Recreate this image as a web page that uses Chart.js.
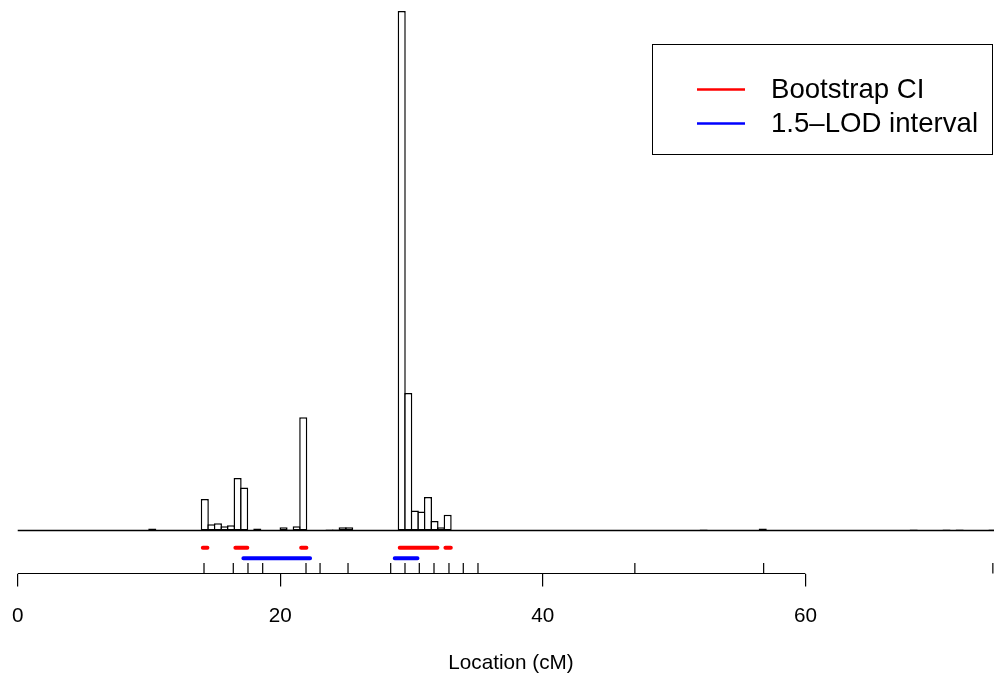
<!DOCTYPE html>
<html>
<head>
<meta charset="utf-8">
<script src="https://cdn.jsdelivr.net/npm/chart.js@4/dist/chart.umd.min.js"></script>
<style>
  html, body { margin: 0; padding: 0; background: #fff; }
  /* the plot region runs a little past the right edge, as in the original export */
  #wrap { width: 994px; height: 677px; overflow: hidden; }
  #bootChart { display: block; }
</style>
</head>
<body>
<div id="wrap"><canvas id="bootChart" width="1022" height="677"></canvas></div>
<script>
// Histogram of bootstrap QTL positions (bins of 0.5 cM, 1000 replicates)
const binStarts = [10, 14, 14.5, 15, 15.5, 16, 16.5, 17, 18, 20, 20.5, 21, 21.5, 23.5, 24, 24.5, 25,
                   29, 29.5, 30, 30.5, 31, 31.5, 32, 32.5, 52, 56.5, 68, 70.5, 71.5, 74];
const binCounts = [2, 30, 6, 7, 4, 5, 50, 41, 2, 3, 1, 4, 108, 1, 1, 3, 3,
                   495, 131, 19, 18, 32, 9, 3, 15, 1, 2, 1, 1, 1, 1];
const binWidth = 0.5;
const histRange = [0, 74.5];

// marker positions (cM) shown as small ticks above the axis
const markerPos = [14.19, 16.42, 17.54, 18.66, 21.96, 23.03, 25.16, 28.41, 29.5, 30.59,
                   31.71, 32.85, 33.94, 35.06, 47.01, 56.82, 74.28];

// intervals
const bootCI = [[14.1, 14.45], [16.58, 17.49], [21.59, 21.99], [29.1, 31.97], [32.58, 32.99]];
const lodInt = [[17.19, 22.27], [28.72, 30.45]];

const xTicks = [0, 20, 40, 60];

// vertical levels (in count units) for the decorations below the histogram
const Y_MIN = -41, Y_MAX = 505.5;
const CI_LEVEL = -16.4, LOD_LEVEL = -26.5, MARKER_LEVEL = -36;

const FONT = "'Liberation Sans', Arial, Helvetica, sans-serif";

function segData(segs, level) {
    const out = [];
    segs.forEach(s => {
        out.push({ x: s[0], y: level }, { x: s[1], y: level }, { x: s[1], y: null });
    });
    return out;
}

// simple boxed legend in the upper right, like R's legend()
const boxLegend = {
    id: 'boxLegend',
    afterDraw(chart) {
        const ctx = chart.ctx;
        const items = chart.data.datasets.filter(d => d.inLegend);
        const right = chart.canvas.parentNode.clientWidth - 1, left = 652, top = 44, rowH = 34;
        const bottom = top + 11 + items.length * rowH + 32;
        ctx.save();
        ctx.fillStyle = '#fff';
        ctx.fillRect(left, top, right - left, bottom - top);
        ctx.strokeStyle = '#000';
        ctx.lineWidth = 1;
        ctx.strokeRect(left + 0.5, top + 0.5, right - left - 1, bottom - top - 1);
        ctx.font = '27.6px ' + FONT;
        ctx.textBaseline = 'middle';
        items.forEach((d, i) => {
            const y = top + 45.5 + i * rowH;
            ctx.strokeStyle = d.borderColor;
            ctx.lineWidth = 2.5;
            ctx.beginPath();
            ctx.moveTo(697, y);
            ctx.lineTo(745, y);
            ctx.stroke();
            ctx.fillStyle = '#000';
            ctx.fillText(d.label, 771, y + 1);
        });
        ctx.restore();
    }
};

const ctx = document.getElementById('bootChart');
new Chart(ctx, {
    type: 'bar',
    data: {
        datasets: [{
            type: 'line',
            label: 'baseline',
            data: [{ x: histRange[0], y: 0 }, { x: histRange[1], y: 0 }],
            borderColor: '#000',
            borderWidth: 1.4,
            pointRadius: 0,
            clip: false,
            order: 0
        }, {
            type: 'bar',
            label: 'bootstrap',
            data: binStarts.map((b, i) => ({ x: b + binWidth / 2, y: binCounts[i] })),
            backgroundColor: '#fff',
            borderColor: '#000',
            borderWidth: 1.5,
            borderSkipped: false,
            barPercentage: 1.23,
            categoryPercentage: 1,
            order: 1
        }, {
            type: 'line',
            label: 'Bootstrap CI',
            inLegend: true,
            data: segData(bootCI, CI_LEVEL),
            borderColor: '#ff0000',
            borderWidth: 4,
            borderCapStyle: 'round',
            spanGaps: false,
            pointRadius: 0,
            order: 0
        }, {
            type: 'line',
            label: '1.5\u2013LOD interval',
            inLegend: true,
            data: segData(lodInt, LOD_LEVEL),
            borderColor: '#0000ff',
            borderWidth: 4,
            borderCapStyle: 'round',
            spanGaps: false,
            pointRadius: 0,
            order: 0
        }, {
            type: 'line',
            label: 'markers',
            data: markerPos.map(m => ({ x: m, y: MARKER_LEVEL })),
            showLine: false,
            pointStyle: 'line',
            rotation: 90,
            pointRadius: 5.25,
            pointBorderWidth: 1.2,
            pointBorderColor: '#000',
            clip: false,
            order: 0
        }, {
            type: 'line',
            label: 'axis',
            data: [{ x: xTicks[0], y: Y_MIN }, { x: xTicks[xTicks.length - 1], y: Y_MIN }],
            borderColor: '#000',
            borderWidth: 1.2,
            pointRadius: 0,
            clip: false,
            order: 0
        }]
    },
    options: {
        responsive: false,
        animation: false,
        layout: { autoPadding: false, padding: 0 },
        plugins: {
            legend: { display: false },
            tooltip: { enabled: false }
        },
        scales: {
            x: {
                type: 'linear',
                offset: false,
                min: -1.35,
                max: 76.5,
                afterBuildTicks: axis => { axis.ticks = xTicks.map(v => ({ value: v })); },
                afterFit: axis => { axis.paddingLeft = 0; axis.paddingRight = 0; },
                grid: {
                    offset: false,
                    drawOnChartArea: false,
                    drawTicks: true,
                    tickLength: 13,
                    color: '#000',
                    lineWidth: 1.2
                },
                border: { display: false },
                ticks: {
                    color: '#000',
                    padding: 17,
                    maxRotation: 0,
                    font: { family: FONT, size: 20.7 }
                },
                title: {
                    display: true,
                    text: 'Location (cM)',
                    color: '#000',
                    font: { family: FONT, size: 20.7 },
                    padding: { top: 5.8, bottom: 1 }
                }
            },
            y: {
                display: false,
                min: Y_MIN,
                max: Y_MAX
            }
        }
    },
    plugins: [boxLegend]
});
</script>
</body>
</html>
